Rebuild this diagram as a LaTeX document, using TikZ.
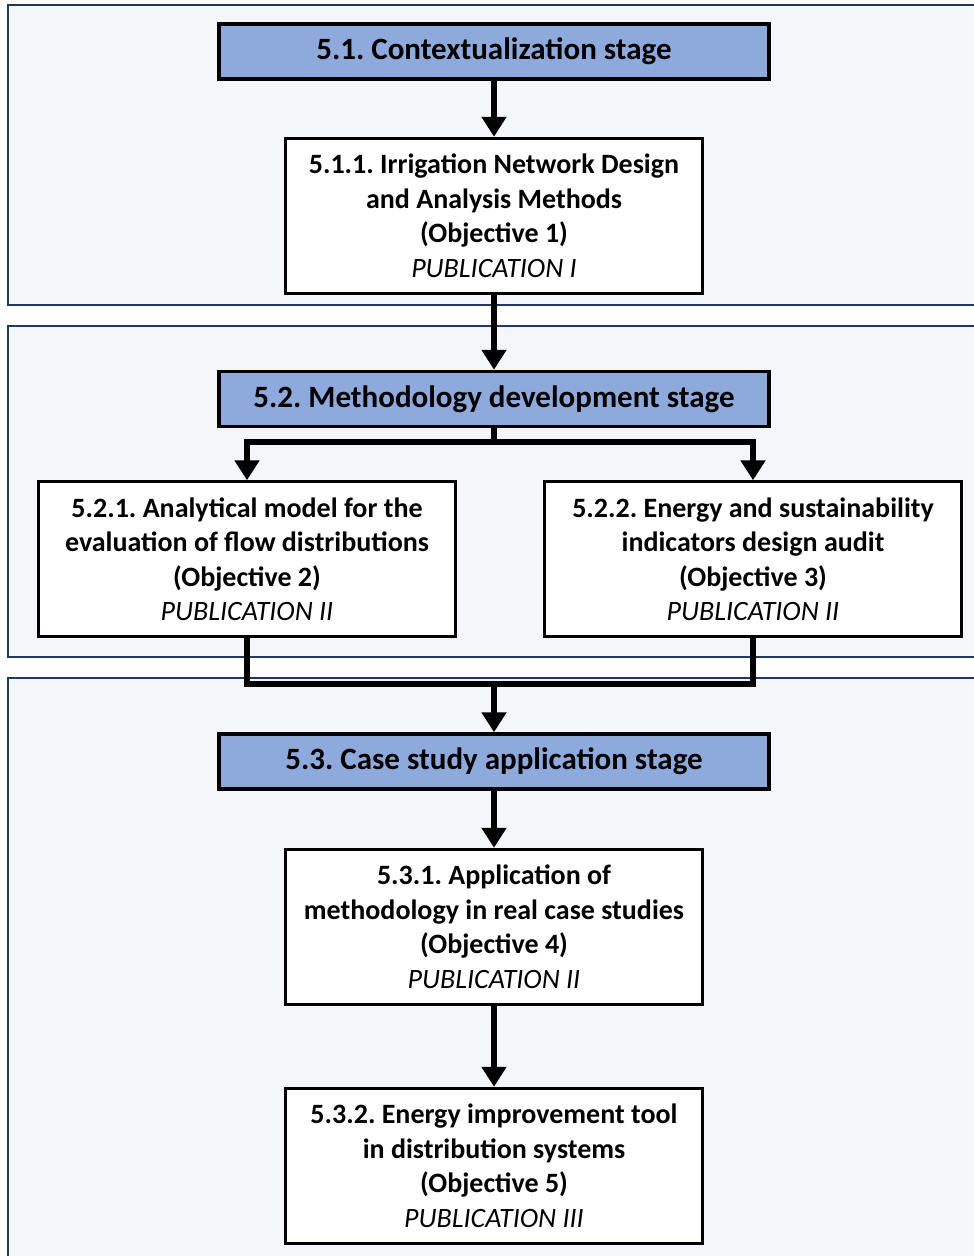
\documentclass[tikz,border=0pt]{standalone}
\usepackage{fontspec}
\setmainfont{Carlito}
\usetikzlibrary{positioning,arrows.meta}
\definecolor{panelfill}{HTML}{F5F6FA}
\definecolor{paneldraw}{HTML}{1F3864}
\definecolor{stagefill}{HTML}{8EA9DB}
\frenchspacing
\begin{document}
\begin{tikzpicture}[x=1pt,y=1pt,
    stage/.style={draw, line width=3.5pt, fill=stagefill, minimum width=550pt, minimum height=55pt,
      font=\fontsize{31}{34}\selectfont\bfseries},
    task/.style={draw, line width=3pt, fill=white, minimum width=417pt, minimum height=155pt,
      align=center, font=\fontsize{28}{34.5}\selectfont\bfseries},
    flow/.style={line width=6pt, -{Triangle[length=20pt,width=24pt]}},
    link/.style={line width=6pt},
    panel/.style={draw=paneldraw, fill=panelfill, line width=2pt}]
  \useasboundingbox (0,0) rectangle (974,-1256);
  % background panels
  \draw[panel] (8,-5) rectangle (990,-305);
  \draw[panel] (8,-326) rectangle (990,-657);
  \draw[panel] (8,-678) rectangle (990,-1275);

  \node[stage] (h51) at (494,-51.5) {5.1. Contextualization stage};
  \node[task, below=56pt of h51] (b511) {5.1.1. Irrigation Network Design\\and Analysis Methods\\(Objective 1)\\\mdseries\itshape PUBLICATION I};
  \node[stage, below=75pt of b511] (h52) {5.2. Methodology development stage};
  \node[task, below=52pt of h52, xshift=-247pt] (b521) {5.2.1. Analytical model for the\\evaluation of flow distributions\\(Objective 2)\\\mdseries\itshape PUBLICATION II};
  \node[task, below=52pt of h52, xshift=259pt] (b522) {5.2.2. Energy and sustainability\\indicators design audit\\(Objective 3)\\\mdseries\itshape PUBLICATION II};
  \node[stage, below=304pt of h52] (h53) {5.3. Case study application stage};
  \node[task, below=57pt of h53] (b531) {5.3.1. Application of\\methodology in real case studies\\(Objective 4)\\\mdseries\itshape PUBLICATION II};
  \node[task, below=81pt of b531] (b532) {5.3.2. Energy improvement tool\\in distribution systems\\(Objective 5)\\\mdseries\itshape PUBLICATION III};

  \coordinate (split) at ([yshift=-14pt]h52.south);
  \coordinate (merge) at (h52.south |- 0,-684);

  \draw[flow] (h51) -- (b511);
  \draw[flow] (b511) -- (h52);
  \draw[link] (h52.south) -- (split);
  \draw[flow] (split) -| (b521);
  \draw[flow] (split) -| (b522);
  \draw[link] (b521) |- (merge) -| (b522);
  \draw[flow] (merge) -- (h53);
  \draw[flow] (h53) -- (b531);
  \draw[flow] (b531) -- (b532);
\end{tikzpicture}
\end{document}
